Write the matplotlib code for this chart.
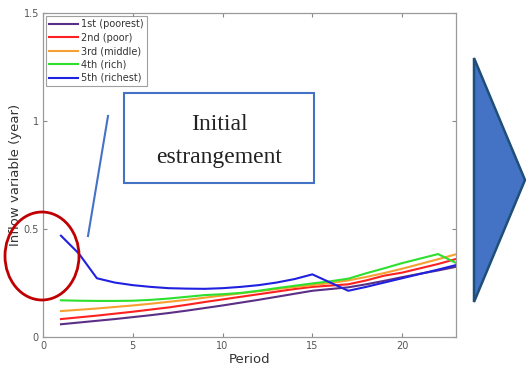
import matplotlib
matplotlib.use("Agg")
import matplotlib.pyplot as plt
from matplotlib.patches import Ellipse, Polygon, Rectangle

periods = list(range(1, 24))

q1_poorest = [0.059, 0.067, 0.075, 0.083, 0.092, 0.101, 0.111, 0.122, 0.134, 0.146,
              0.159, 0.172, 0.186, 0.200, 0.214, 0.222, 0.230, 0.244, 0.260, 0.277,
              0.293, 0.308, 0.325]
q2_poor = [0.083, 0.091, 0.099, 0.108, 0.117, 0.127, 0.137, 0.149, 0.162, 0.174,
           0.186, 0.198, 0.210, 0.222, 0.232, 0.238, 0.244, 0.262, 0.284, 0.298,
           0.318, 0.338, 0.361]
q3_middle = [0.120, 0.126, 0.132, 0.139, 0.146, 0.154, 0.163, 0.172, 0.182, 0.192,
             0.202, 0.212, 0.222, 0.231, 0.240, 0.250, 0.262, 0.278, 0.296, 0.316,
             0.338, 0.360, 0.383]
q4_rich = [0.170, 0.168, 0.167, 0.167, 0.168, 0.172, 0.178, 0.186, 0.194, 0.198,
           0.204, 0.214, 0.226, 0.237, 0.248, 0.258, 0.270, 0.295, 0.318, 0.342,
           0.363, 0.384, 0.343]
q5_richest = [0.469, 0.386, 0.272, 0.252, 0.240, 0.232, 0.226, 0.224, 0.223, 0.226,
              0.232, 0.240, 0.252, 0.268, 0.290, 0.252, 0.214, 0.232, 0.252, 0.272,
              0.292, 0.312, 0.333]

series_labels = ["1st (poorest)", "2nd (poor)", "3rd (middle)", "4th (rich)", "5th (richest)"]
series_colors = ["#5b2f86", "#ff2020", "#f5a030", "#2ee02e", "#2020e0"]

x_ticks = [0, 5, 10, 15, 20]
y_ticks = [0, 0.5, 1, 1.5]
y_tick_labels = ["0", "0.5", "1", "1.5"]

W, H = 526, 372
fig = plt.figure(figsize=(W / 100, H / 100), dpi=100)
fig.patch.set_facecolor("white")

ax = fig.add_axes([43 / W, 1 - 337 / H, 413 / W, 324 / H])
for vals, lab, col in zip([q1_poorest, q2_poor, q3_middle, q4_rich, q5_richest],
                          series_labels, series_colors):
    ax.plot(periods, vals, color=col, lw=1.5, label=lab)

ax.set_xlim(0, 23)
ax.set_ylim(0, 1.5)
ax.set_xticks(x_ticks)
ax.set_yticks(y_ticks)
ax.set_yticklabels(y_tick_labels)
ax.tick_params(direction="in", length=3, colors="#888888", labelcolor="#555555",
               labelsize=7, top=True, right=True, pad=3)
for s in ax.spines.values():
    s.set_color("#9a9a9a")
    s.set_linewidth(0.9)
ax.set_xlabel("Period", fontsize=9.5, color="#333333", labelpad=1)
ax.set_ylabel("Inflow variable (year)", fontsize=9.5, color="#333333", labelpad=2)
ax.yaxis.set_label_coords(-0.052, 0.5)

leg = ax.legend(loc="upper left", fontsize=7, handlelength=2.9, handletextpad=0.4,
                borderpad=0.35, labelspacing=0.35, frameon=True, fancybox=False,
                borderaxespad=0.3)
leg.get_frame().set_edgecolor("#888888")
leg.get_frame().set_linewidth(0.8)
for t in leg.get_texts():
    t.set_color("#333333")

# Overlay in pixel coordinates for the callout shapes
ov = fig.add_axes([0, 0, 1, 1], zorder=5)
ov.set_xlim(0, W)
ov.set_ylim(H, 0)
ov.axis("off")
ov.patch.set_alpha(0)

ov.add_patch(Ellipse((42, 256), 74, 88, fill=False, edgecolor="#c00000", lw=2))
ov.plot([88, 108], [236, 116], color="#4472c4", lw=1.5)
ov.add_patch(Rectangle((124, 93), 190, 90, facecolor="white", edgecolor="#4472c4", lw=1.5))
ov.text(219, 141, "Initial\nestrangement", ha="center", va="center",
        fontsize=17, family="Liberation Serif", color="#222222", linespacing=1.75)
ov.add_patch(Polygon([(474, 58), (525, 180), (474, 302)], closed=True,
                     facecolor="#4472c4", edgecolor="#1f4e79", lw=1.8))

fig.savefig("out.png", dpi=100)
